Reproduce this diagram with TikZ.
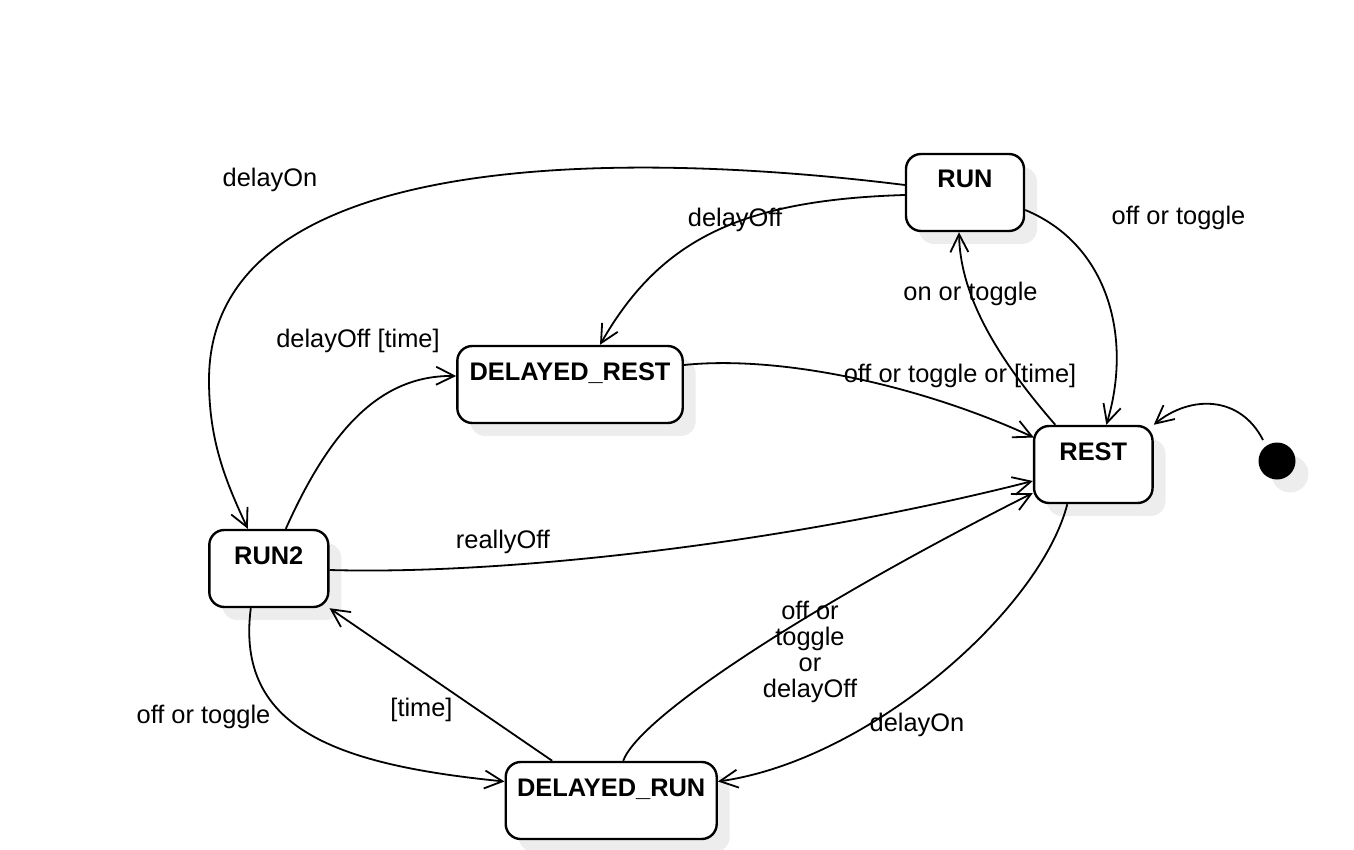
\documentclass[tikz,border=0pt]{standalone}
\usepackage{fontspec}
\setmainfont{Liberation Sans}
\usetikzlibrary{arrows.meta,shadows,calc}
\begin{document}
\begin{tikzpicture}[x=0.5pt,y=-0.5pt,
  shad/.style={drop shadow={shadow xshift=6.5pt, shadow yshift=-6.5pt, fill=black!7, opacity=1}},
  state/.style={draw, line width=1.2pt, rounded corners=7.5pt, fill=white, inner sep=0pt,
    text height=17pt, text depth=21.5pt, font=\fontsize{12.7}{13}\selectfont\bfseries, shad},
  lbl/.style={inner sep=0pt, anchor=base, font=\fontsize{12.7}{13}\selectfont, align=center},
  tr/.style={draw, line width=0.9pt, -{Straight Barb[length=9pt,width=9pt]}},
]
\useasboundingbox (0,0) rectangle (1354,850);

% states
\node[state, minimum width=59pt]    (run)   at (965,192.5)   {RUN};
\node[state, minimum width=59.25pt] (rest)  at (1093.3,464.5) {REST};
\node[state, minimum width=112.7pt] (dr)    at (570,384.5)   {DELAYED\_REST};
\node[state, minimum width=59.5pt]  (run2)  at (268.8,568.5) {RUN2};
\node[state, minimum width=105.5pt] (drun)  at (611.2,800.5) {DELAYED\_RUN};
\node[circle, fill=black, inner sep=0pt, minimum size=18.5pt, shad] (init) at (1277,461) {};

% transitions
\draw[tr] ($(run.west)+(0,-7.5)$) .. controls (640,152) and (209,142) .. (209,380)
          .. controls (209,440) and (225,480) .. ($(run2.north)+(-21,0)$);
\draw[tr] ($(run.west)+(0,2.5)$) .. controls (740,200) and (660,240) .. ($(dr.north)+(30,0)$);
\draw[tr] ($(run.east)+(0,17.5)$) .. controls (1110,245) and (1132,340) .. ($(rest.north)+(13,0)$);
\draw[tr] ($(rest.north)+(-38,0)$) .. controls (990,350) and (960,290) .. ($(run.south)+(-6,0)$);
\draw[tr] ($(dr.east)+(0,-19.5)$) .. controls (780,355) and (920,385) .. ($(rest.west)+(1,-27)$);
\draw[tr] ($(run2.north)+(17,0)$) .. controls (330,430) and (380,375) .. ($(dr.west)+(0,-8.5)$);
\draw[tr] ($(run2.east)+(0,1.5)$) .. controls (500,575) and (780,545) .. ($(rest.west)+(0,16.5)$);
\draw[tr] ($(run2.south)+(-18,0)$) .. controls (235,730) and (340,765) .. ($(drun.west)+(0,-19)$);
\draw[tr] ($(drun.north)+(-59,0)$) -- (run2.south east);
\draw[tr] ($(drun.north)+(12,0)$) .. controls (640,715) and (820,600) .. ($(rest.west)+(0,28.5)$);
\draw[tr] ($(rest.south)+(-26,0)$) .. controls (1040,610) and (870,760) .. ($(drun.east)+(0,-19)$);
\draw[tr] ($(init.center)+(-14,-21)$) .. controls (1240,395) and (1190,395) .. (rest.north east);

% labels
\node[lbl] (l1)  at (270,187)    {delayOn};
\node[lbl] (l2)  at (735,227)    {delayOff};
\node[lbl] (l3)  at (1178.5,225) {off or toggle};
\node[lbl] (l4)  at (970.5,300)  {on or toggle};
\node[lbl] (l5)  at (358,347)    {delayOff [time]};
\node[lbl] (l6)  at (960,382)    {off or toggle or [time]};
\node[lbl] (l7)  at (503,548)    {reallyOff};
\node[lbl] (l8)  at (203.5,723)  {off or toggle};
\node[lbl] (l9)  at (421.5,716)  {[time]};
\node[lbl, anchor=center] (l10) at (810,651.5) {off or\\toggle\\or\\delayOff};
\node[lbl] (l11) at (917,731)    {delayOn};
\end{tikzpicture}
\end{document}
